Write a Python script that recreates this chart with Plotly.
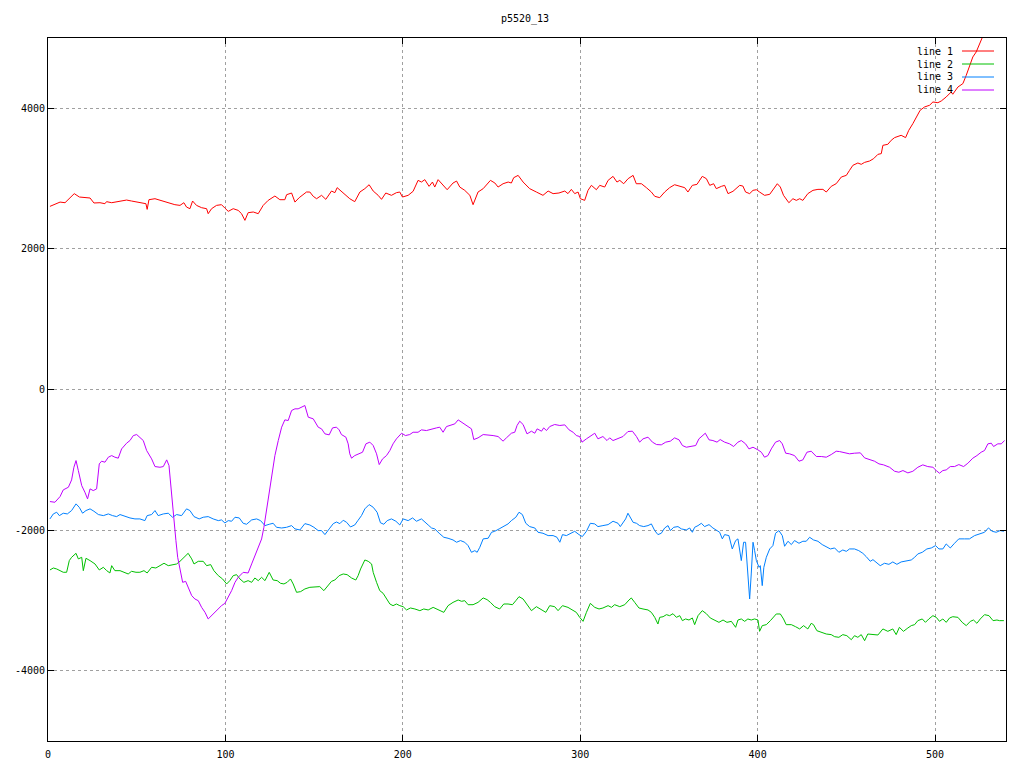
import plotly.graph_objects as go

# ---------------- data ----------------
x1 = [1.1, 3.9, 6.8, 9.6, 12.4, 14.8, 17.7, 20.8, 23.7, 25.9, 29.3, 32.1, 33.0, 35.9, 38.7, 41.5, 44.3, 47.1, 50.0, 52.8,
      55.2, 55.9, 56.9, 60.3, 63.1, 65.9, 68.7, 71.5, 74.4, 76.6, 78.1, 80.0, 81.5, 83.7, 86.6, 89.4, 90.3, 92.2, 95.0, 97.8,
      99.7, 101.6, 104.4, 107.2, 109.1, 111.0, 112.8, 115.7, 118.5, 121.3, 124.1, 127.9, 130.7, 133.5, 134.5, 137.3, 139.2, 141.6,
      145.7, 147.6, 149.5, 151.4, 154.2, 156.6, 159.8, 161.7, 163.0, 166.4, 170.1, 172.9, 175.8, 178.6, 181.0, 183.3, 186.1, 188.0,
      190.4, 193.6, 196.4, 198.3, 199.8, 203.0, 205.8, 208.6, 210.5, 212.4, 214.8, 216.7, 218.0, 219.9, 222.7, 225.0, 228.3, 230.3,
      232.1, 234.9, 237.8, 239.6, 242.4, 245.3, 249.4, 251.9, 253.7, 256.5, 259.4, 261.2, 262.5, 265.0, 267.8, 271.5, 275.3, 279.0,
      281.9, 284.7, 288.0, 291.3, 293.1, 295.0, 296.9, 298.8, 300.1, 302.5, 304.4, 306.3, 309.1, 311.0, 313.8, 315.7, 318.5, 320.7,
      322.3, 324.5, 327.0, 329.8, 331.6, 334.5, 337.3, 340.1, 342.0, 344.8, 347.6, 350.4, 353.2, 356.1, 358.9, 360.7, 363.2, 365.8,
      368.8, 371.1, 373.0, 375.2, 376.7, 379.6, 381.4, 383.3, 386.1, 389.9, 391.7, 393.2, 395.5, 397.4, 399.3, 401.1, 403.9, 406.8,
      408.6, 411.1, 412.8, 414.6, 417.6, 419.9, 421.8, 423.7, 425.5, 428.3, 431.2, 434.0, 436.8, 438.7, 441.5, 444.3, 447.2, 450.0,
      451.8, 453.7, 456.5, 458.4, 460.3, 463.1, 465.4, 467.8, 469.7, 470.6, 473.4, 475.3, 477.2, 479.0, 480.9, 483.4, 485.2, 487.5,
      489.4, 491.6, 494.1, 496.9, 498.8, 501.6, 503.5, 506.3, 509.1, 510.0, 512.9, 515.7, 517.6, 519.4, 521.3, 523.2, 525.1, 526.6,
      529.0, 532.0, 535.0, 539.0]
y1 = [2605, 2633, 2666, 2657, 2729, 2786, 2738, 2729, 2724, 2653, 2657, 2643, 2672, 2657, 2672, 2681, 2695, 2681, 2666, 2653,
      2643, 2562, 2700, 2714, 2690, 2672, 2643, 2629, 2619, 2657, 2595, 2572, 2681, 2619, 2586, 2572, 2501, 2572, 2619, 2629,
      2581, 2534, 2572, 2548, 2501, 2406, 2515, 2525, 2501, 2619, 2690, 2752, 2700, 2700, 2771, 2795, 2666, 2729,
      2809, 2809, 2748, 2714, 2762, 2705, 2823, 2800, 2871, 2800, 2714, 2672, 2809, 2857, 2913, 2823, 2762, 2705,
      2795, 2762, 2800, 2809, 2738, 2762, 2819, 2975, 2951, 2985, 2890, 2951, 2880, 2985, 2904, 2842, 2937, 2965,
      2880, 2833, 2762, 2629, 2809, 2857, 2975, 2937, 2880, 2927, 2951, 2937, 3013, 3046, 2951, 2857, 2809, 2762,
      2823, 2786, 2795, 2823, 2786, 2847, 2786, 2809, 2714, 2690, 2833, 2904, 2842, 2904, 2880, 2975, 3032, 2951,
      2975, 2927, 2999, 3046, 2927, 2927, 2871, 2809, 2748, 2729, 2809, 2871, 2913, 2890, 2871, 2809, 2904, 2918,
      3032, 2999, 2904, 2927, 2857, 2890, 2904, 2786, 2819, 2904, 2894, 2809, 2786, 2833, 2842, 2809, 2762, 2776,
      2833, 2927, 2880, 2762, 2657, 2714, 2690, 2714, 2690, 2786, 2833, 2847, 2847, 2809, 2890, 2928, 3023, 3046,
      3117, 3189, 3222, 3203, 3231, 3250, 3284, 3345, 3355, 3473, 3488, 3545, 3583, 3602, 3616, 3583, 3687, 3782,
      3877, 3972, 4019, 4043, 4090, 4080, 4104, 4161, 4232, 4200, 4303, 4351, 4470, 4612, 4730, 4801, 4921, 5015,
      5150, 5300, 5420, 5560]

x2 = [1.1, 3.0, 4.9, 6.8, 8.6, 10.5, 12.0, 13.3, 15.8, 17.1, 19.0, 19.9, 21.4, 23.7, 26.5, 28.9, 31.2, 33.1, 34.9, 35.9,
      37.7, 40.6, 43.4, 45.2, 47.1, 49.6, 51.8, 54.1, 55.9, 58.4, 60.8, 63.1, 65.4, 67.8, 70.2, 72.5, 74.4, 76.6, 79.0, 81.0,
      82.3, 84.7, 87.5, 89.4, 91.7, 93.5, 96.0, 98.4, 100.7, 102.5, 104.4, 106.3, 108.2, 110.4, 112.8, 114.8, 116.6, 118.5,
      120.4, 122.3, 124.7, 126.9, 129.2, 131.1, 133.0, 134.8, 136.7, 138.2, 140.1, 142.4, 144.8, 147.6, 150.4, 153.2, 155.5,
      157.4, 159.8, 161.7, 164.1, 166.4, 168.6, 171.1, 173.5, 174.8, 176.2, 178.6, 180.5, 182.4, 183.3, 185.2, 187.0, 188.9,
      190.8, 192.7, 194.5, 196.4, 198.3, 200.2, 202.1, 204.3, 206.8, 209.6, 211.8, 214.3, 217.1, 220.5, 223.1, 225.5, 228.3,
      231.2, 233.1, 234.9, 236.8, 239.6, 242.4, 245.3, 247.5, 249.4, 251.8, 254.6, 256.9, 259.3, 261.8, 263.7, 265.5, 267.8,
      270.0, 272.5, 275.3, 277.6, 280.6, 282.8, 285.6, 287.5, 290.0, 293.1, 296.0, 297.8, 299.7, 301.6, 303.5, 305.7, 308.2,
      310.6, 312.8, 315.7, 317.6, 319.4, 322.3, 325.1, 327.5, 328.8, 330.7, 333.1, 335.4, 338.2, 340.1, 342.0, 343.8, 344.8,
      346.7, 348.6, 350.4, 352.3, 354.2, 356.1, 357.6, 359.4, 361.3, 363.2, 364.5, 366.4, 368.8, 371.1, 373.3, 375.8, 378.2,
      380.5, 382.7, 385.2, 387.6, 388.9, 390.8, 392.7, 394.5, 396.4, 398.3, 400.2, 401.1, 402.6, 404.9, 407.2, 409.0, 410.5,
      412.8, 414.6, 416.1, 419.0, 421.4, 423.7, 425.9, 428.3, 430.2, 431.5, 433.4, 435.9, 438.7, 441.5, 443.4, 445.8, 448.0,
      450.3, 452.8, 454.6, 456.5, 458.4, 460.3, 462.1, 465.0, 467.8, 470.6, 473.4, 476.2, 478.1, 479.9, 482.2, 484.7, 486.6,
      488.5, 490.3, 492.8, 494.6, 496.5, 498.8, 500.7, 502.5, 504.4, 506.3, 508.2, 510.0, 512.9, 515.3, 517.6, 519.9, 521.7,
      523.6, 525.5, 527.9, 530.4, 532.7, 534.9, 536.3, 538.8]
y2 = [-2567, -2539, -2553, -2577, -2600, -2600, -2434, -2387, -2330, -2410, -2387, -2577, -2401, -2434, -2482, -2567, -2529, -2577, -2610, -2506,
      -2577, -2577, -2600, -2624, -2586, -2600, -2600, -2577, -2610, -2529, -2539, -2506, -2472, -2506, -2491, -2482, -2444, -2387, -2330, -2410,
      -2482, -2444, -2444, -2506, -2491, -2577, -2648, -2695, -2766, -2719, -2648, -2634, -2695, -2743, -2719, -2743, -2681, -2719,
      -2672, -2719, -2601, -2710, -2719, -2757, -2766, -2743, -2695, -2766, -2885, -2875, -2837, -2814, -2814, -2804, -2861,
      -2804, -2729, -2710, -2648, -2624, -2634, -2681, -2710, -2648, -2553, -2425, -2444, -2482, -2601, -2743, -2861, -2899,
      -2980, -3051, -3075, -3051, -3075, -3089, -3136, -3108, -3122, -3146, -3122, -3136, -3099, -3136, -3170, -3075, -3028,
      -2994, -3013, -3004, -3061, -3061, -3028, -2965, -2989, -3028, -3089, -3122, -3051, -3051, -3061, -3004, -2947, -2980,
      -3061, -3146, -3089, -3122, -3170, -3075, -3089, -3146, -3075, -3099, -3136, -3170, -3241, -3298, -3170, -3042, -3099,
      -3122, -3108, -3075, -3099, -3061, -3089, -3061, -2994, -2965, -3028, -3108, -3122, -3136, -3170, -3241, -3336, -3241,
      -3232, -3203, -3217, -3189, -3241, -3217, -3288, -3264, -3279, -3250, -3345, -3217, -3146, -3189, -3250, -3279, -3312,
      -3279, -3312, -3298, -3383, -3279, -3264, -3298, -3264, -3279, -3264, -3279, -3440, -3359, -3345, -3288, -3241, -3193,
      -3193, -3264, -3345, -3345, -3374, -3406, -3359, -3406, -3326, -3345, -3431, -3454, -3478, -3487, -3516, -3525, -3487,
      -3502, -3559, -3502, -3525, -3487, -3573, -3478, -3487, -3492, -3406, -3440, -3406, -3487, -3383, -3440, -3392, -3359,
      -3345, -3288, -3264, -3312, -3264, -3217, -3241, -3298, -3264, -3312, -3250, -3232, -3241, -3312, -3359, -3298, -3279,
      -3326, -3264, -3203, -3217, -3288, -3279, -3288, -3288]

x3 = [1.1, 3.0, 4.9, 6.4, 8.6, 10.9, 13.3, 15.8, 17.6, 19.5, 21.4, 23.7, 25.9, 28.4, 31.2, 34.0, 36.4, 38.7, 40.6, 43.4,
      46.2, 49.0, 51.8, 54.6, 55.9, 58.4, 60.3, 62.1, 65.0, 67.8, 70.2, 72.5, 75.3, 78.1, 80.0, 82.3, 85.2, 87.5, 90.3, 93.1,
      96.0, 97.8, 99.7, 101.6, 103.5, 105.4, 107.8, 110.0, 111.9, 114.8, 117.6, 119.8, 122.3, 124.7, 126.9, 128.8, 131.7, 134.5,
      137.3, 139.2, 142.0, 144.8, 147.6, 149.9, 152.3, 154.2, 156.1, 158.5, 160.8, 162.6, 164.5, 166.4, 168.3, 170.5, 172.9,
      174.8, 176.7, 178.6, 181.0, 183.3, 185.5, 187.4, 189.3, 191.2, 193.6, 196.1, 198.3, 200.2, 203.0, 205.5, 207.7, 210.5,
      212.4, 214.3, 216.2, 218.0, 220.5, 223.1, 225.5, 228.3, 230.3, 232.5, 234.9, 236.8, 238.7, 240.6, 241.9, 243.4, 245.3,
      248.1, 250.0, 251.8, 254.3, 256.5, 259.3, 261.2, 263.7, 265.5, 267.4, 269.3, 271.5, 274.4, 276.2, 279.0, 281.9, 284.7,
      286.9, 288.5, 290.0, 292.2, 295.0, 296.9, 299.3, 301.2, 303.5, 305.7, 308.2, 310.0, 312.8, 315.7, 318.5, 321.3, 322.6,
      324.1, 325.6, 326.9, 328.3, 329.8, 331.7, 333.5, 335.8, 338.2, 340.1, 342.0, 343.8, 345.7, 347.6, 349.5, 350.8, 352.7,
      355.1, 357.0, 359.8, 361.7, 363.2, 364.5, 366.4, 368.3, 370.1, 372.6, 374.8, 376.7, 378.6, 380.1, 381.4, 383.8, 385.7,
      387.6, 388.9, 390.8, 392.1, 393.2, 394.5, 395.5, 396.4, 397.4, 398.3, 399.3, 400.8, 401.5, 402.6, 403.5, 404.9, 406.8,
      408.6, 410.1, 412.0, 413.9, 415.2, 417.1, 419.0, 420.8, 423.3, 425.5, 427.4, 429.3, 431.5, 434.0, 436.4, 438.7, 441.0,
      443.4, 445.8, 448.0, 450.0, 451.8, 454.6, 457.0, 459.3, 461.2, 463.5, 465.0, 467.2, 469.1, 471.5, 474.0, 476.2, 478.5,
      480.9, 483.8, 486.6, 488.5, 490.3, 492.8, 495.4, 497.9, 500.3, 502.2, 504.4, 506.3, 508.6, 511.0, 513.4, 516.6, 519.4,
      522.3, 525.1, 527.9, 530.1, 532.2, 534.5, 536.7, 538.8]
y3 = [-1841, -1770, -1746, -1794, -1760, -1770, -1722, -1627, -1675, -1760, -1722, -1698, -1732, -1779, -1794, -1770, -1794, -1808, -1779, -1808,
      -1827, -1841, -1841, -1865, -1794, -1779, -1722, -1794, -1770, -1760, -1817, -1779, -1794, -1698, -1722, -1808, -1841, -1817, -1808, -1841,
      -1865, -1855, -1898, -1865, -1874, -1817, -1827, -1903, -1917, -1855, -1841, -1865, -1936, -1917, -1903, -1960, -1970, -1960,
      -1936, -1983, -1998, -1908, -1927, -1960, -2007, -2007, -2064, -1983, -1908, -1885, -1908, -1860, -1889, -1955, -1927,
      -1860, -1794, -1698, -1637, -1675, -1746, -1896, -1917, -1865, -1841, -1874, -1927, -1841, -1865, -1827, -1874, -1841,
      -1889, -1927, -1970, -1983, -2045, -2102, -2116, -2140, -2173, -2149, -2173, -2221, -2316, -2292, -2316, -2244, -2125,
      -2116, -2031, -2017, -1983, -1950, -1912, -1865, -1817, -1746, -1779, -1903, -1950, -1970, -2031, -2045, -2078, -2078,
      -2102, -2173, -2064, -2078, -2045, -2017, -2064, -2092, -2017, -1903, -1912, -1950, -1936, -1922, -1874, -1903, -1950,
      -1889, -1841, -1760, -1827, -1889, -1903, -1936, -1950, -1936, -1912, -2007, -2064, -2045, -1970, -1936, -2007, -1960,
      -1950, -1983, -1998, -1970, -2031, -1960, -1936, -1903, -1950, -1922, -1970, -2007, -2031, -2125, -2064, -2078, -2268,
      -2149, -2125, -2434, -2173, -2173, -2624, -2980, -2624, -2173, -2292, -2434, -2530, -2506, -2790, -2530, -2387, -2268,
      -2221, -2045, -2007, -2078, -2230, -2159, -2206, -2149, -2187, -2159, -2159, -2102, -2140, -2159, -2206, -2235, -2268,
      -2254, -2316, -2283, -2302, -2268, -2268, -2292, -2330, -2377, -2444, -2420, -2472, -2506, -2472, -2487, -2453, -2487,
      -2453, -2444, -2425, -2387, -2339, -2316, -2268, -2254, -2221, -2268, -2268, -2197, -2254, -2187, -2125, -2125, -2125,
      -2078, -2054, -2031, -1969, -2017, -2031, -2007, -2017]

x4 = [1.1, 3.9, 6.8, 8.6, 11.5, 13.3, 14.6, 15.8, 17.1, 19.0, 20.8, 22.3, 23.7, 25.5, 27.4, 28.9, 30.2, 32.1, 34.0, 35.9,
      37.7, 39.6, 41.5, 44.3, 46.2, 48.1, 50.0, 51.8, 53.7, 55.6, 58.4, 60.3, 63.1, 65.0, 66.9, 68.2, 69.1, 70.2, 71.2, 72.1,
      73.1, 74.4, 75.9, 77.6, 79.0, 81.0, 82.8, 84.7, 86.6, 88.5, 90.3, 92.2, 94.1, 96.0, 97.8, 99.7, 101.6, 103.5, 105.4,
      107.2, 110.0, 112.8, 114.8, 116.6, 118.5, 120.4, 121.7, 123.2, 124.7, 126.0, 127.9, 129.8, 131.7, 133.5, 135.4, 137.3,
      139.2, 141.0, 142.9, 144.8, 146.7, 149.5, 152.3, 154.2, 156.1, 158.5, 160.4, 162.6, 164.1, 165.4, 167.9, 169.2, 170.1,
      171.1, 172.9, 175.4, 177.3, 179.2, 181.4, 183.3, 185.2, 186.7, 188.6, 190.8, 192.7, 194.5, 196.4, 199.3, 201.5, 203.9,
      205.8, 208.6, 210.5, 213.3, 216.2, 219.0, 220.8, 222.7, 224.6, 227.4, 229.3, 231.2, 234.0, 236.8, 238.7, 240.0, 242.4,
      245.3, 248.1, 250.9, 253.7, 256.5, 258.4, 261.2, 263.1, 264.4, 265.9, 267.8, 270.0, 272.5, 274.4, 275.7, 278.2, 279.4,
      281.0, 282.8, 285.6, 288.5, 291.3, 293.7, 296.0, 297.8, 299.7, 301.0, 303.5, 306.3, 308.2, 310.0, 312.8, 315.1, 316.6,
      318.5, 321.3, 324.1, 326.9, 329.4, 331.7, 333.5, 335.4, 338.2, 340.7, 343.0, 345.7, 348.2, 350.8, 353.2, 355.7, 357.6,
      359.8, 362.6, 365.1, 366.9, 369.2, 370.5, 372.6, 374.8, 377.1, 378.9, 381.4, 384.2, 386.5, 388.9, 390.8, 393.2, 395.1,
      397.4, 400.2, 402.1, 403.9, 405.8, 407.7, 410.1, 412.4, 413.9, 415.8, 418.0, 420.8, 423.3, 425.5, 427.8, 430.2, 433.1,
      435.9, 438.7, 441.5, 444.3, 446.2, 449.0, 451.8, 454.6, 457.9, 460.3, 463.1, 465.9, 468.4, 471.0, 474.4, 477.2, 479.6,
      481.9, 484.7, 487.5, 490.3, 493.1, 495.9, 498.8, 500.7, 502.5, 504.4, 506.3, 508.6, 511.0, 513.4, 516.1, 518.5, 521.3,
      523.6, 526.0, 527.9, 529.8, 531.7, 533.0, 535.4, 537.3, 539.2]
y4 = [-1594, -1604, -1523, -1428, -1390, -1286, -1106, -1011, -1153, -1367, -1461, -1556, -1414, -1438, -1414, -1058, -1020, -1034, -963, -940,
      -963, -977, -845, -764, -726, -655, -641, -678, -726, -868, -987, -1096, -1106, -1096, -1001, -1082, -1343, -1675, -1912, -2149,
      -2387, -2577, -2743, -2729, -2814, -2932, -2980, -3004, -3099, -3170, -3264, -3217, -3160, -3113, -3075, -3042, -2956, -2861, -2743,
      -2672, -2601, -2610, -2481, -2363, -2268, -2126, -1960, -1722, -1485, -1224, -940, -726, -536, -432, -441, -299,
      -275, -275, -251, -228, -394, -417, -536, -560, -631, -645, -546, -536, -574, -641, -678, -773, -915,
      -977, -940, -906, -892, -773, -749, -797, -915, -1068, -987, -940, -868, -773, -702, -622, -655, -641,
      -608, -608, -574, -584, -560, -546, -536, -608, -527, -498, -489, -432, -479, -527, -560, -712, -688,
      -641, -645, -655, -669, -735, -688, -622, -608, -512, -451, -498, -631, -593, -622, -560, -593, -546,
      -584, -527, -498, -512, -503, -574, -608, -655, -669, -749, -702, -655, -622, -702, -669, -726, -688,
      -726, -702, -669, -598, -593, -669, -749, -702, -678, -749, -783, -787, -749, -735, -688, -716, -797,
      -821, -811, -797, -702, -655, -622, -716, -726, -749, -712, -749, -773, -811, -749, -726, -773, -845,
      -821, -859, -892, -963, -940, -845, -749, -726, -773, -906, -915, -940, -1020, -1001, -892, -878, -953,
      -953, -963, -925, -878, -883, -901, -915, -906, -901, -973, -1001, -1020, -1058, -1072, -1106, -1163, -1177,
      -1153, -1186, -1163, -1106, -1072, -1096, -1106, -1153, -1191, -1153, -1144, -1096, -1096, -1068, -1096, -1049, -977,
      -940, -892, -868, -773, -764, -811, -773, -773, -726]

series_x = [x1, x2, x3, x4]
series_y = [y1, y2, y3, y4]
names = ["line 1", "line 2", "line 3", "line 4"]
colors = ["#ff0000", "#00c000", "#0080ff", "#c000ff"]

x_ticks = [0, 100, 200, 300, 400, 500]
y_ticks = [-4000, -2000, 0, 2000, 4000]
title_text = "p5520_13"

# ---------------- figure ----------------
OFF = 8                      # page body margin of the browser
W, H = 1024 - OFF, 768 - OFF
PL, PR, PT, PB = 48, 1006, 38, 741     # plot area in page pixels
L, T = PL - OFF, PT - OFF
R, B = W - (PR - OFF), H - (PB - OFF)
plot_w, plot_h = PR - PL, PB - PT
FONT = "DejaVu Sans Mono"

fig = go.Figure()
for xs, ys, c, n in zip(series_x, series_y, colors, names):
    fig.add_trace(go.Scatter(x=xs, y=ys, mode="lines", name=n,
                             line=dict(color=c, width=1), showlegend=False))

# gnuplot-style key: text on the left, line sample on the right
for i, (n, c) in enumerate(zip(names, colors)):
    py = 51 + 13 * i
    yp = (PB - py) / plot_h
    fig.add_annotation(x=(955 - PL) / plot_w, y=yp, xref="paper", yref="paper",
                       text=n, showarrow=False, xanchor="right", yanchor="middle",
                       font=dict(family=FONT, size=10, color="black"))
    fig.add_shape(type="line", xref="paper", yref="paper",
                  x0=(962 - PL) / plot_w, x1=(994 - PL) / plot_w, y0=yp, y1=yp,
                  line=dict(color=c, width=1))

axis_common = dict(showline=True, linecolor="black", linewidth=1, mirror="ticks",
                   ticks="inside", ticklen=6, tickcolor="black", tickwidth=1,
                   showgrid=True, gridcolor="#a0a0a0", griddash="dot", gridwidth=1,
                   zeroline=False, automargin=False,
                   tickfont=dict(family=FONT, size=10, color="black"))

fig.update_xaxes(range=[0, 540], tickvals=x_ticks, ticktext=[str(v) for v in x_ticks],
                 ticklabelstandoff=4, **axis_common)
fig.update_yaxes(range=[-5000, 5000], tickvals=y_ticks, ticktext=[str(v) for v in y_ticks],
                 **axis_common)

fig.update_layout(
    width=W, height=H,
    margin=dict(l=L, r=R, t=T, b=B, pad=0, autoexpand=False),
    paper_bgcolor="white", plot_bgcolor="white",
    title=dict(text=title_text, x=(525 - OFF) / W, xanchor="center",
               y=1 - (18 - OFF) / H, yanchor="middle", yref="container",
               font=dict(family=FONT, size=10, color="black")),
    showlegend=False,
)

fig.write_html("out.html")
